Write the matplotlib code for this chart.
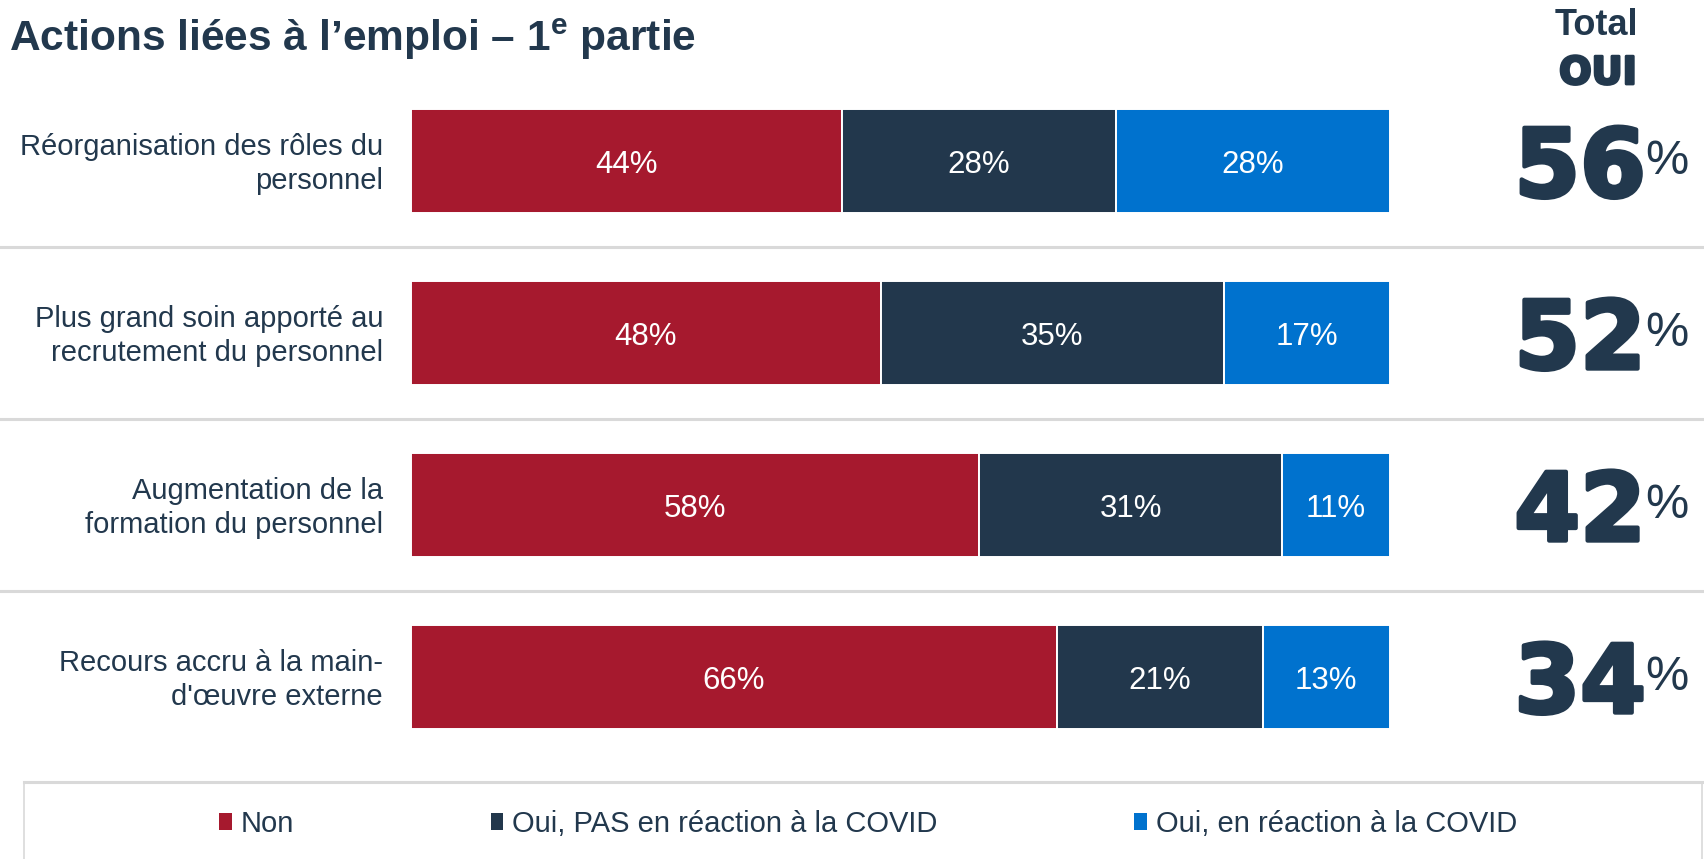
import matplotlib
matplotlib.use("Agg")
import matplotlib.pyplot as plt
import matplotlib.transforms as mtransforms
import matplotlib.patheffects as pe
from matplotlib.patches import Patch, Rectangle

plt.rcParams['font.family'] = ['Liberation Sans', 'DejaVu Sans']
plt.rcParams['mathtext.fontset'] = 'custom'
plt.rcParams['mathtext.rm'] = 'Liberation Sans:bold'
plt.rcParams['mathtext.bf'] = 'Liberation Sans:bold'

# ---- data ----
categories = [
    "Réorganisation des rôles du\npersonnel",
    "Plus grand soin apporté au\nrecrutement du personnel",
    "Augmentation de la\nformation du personnel",
    "Recours accru à la main-\nd'œuvre externe",
]
series_names = ["Non", "Oui, PAS en réaction à la COVID", "Oui, en réaction à la COVID"]
non = [44, 48, 58, 66]
oui_pas_covid = [28, 35, 31, 21]
oui_covid = [28, 17, 11, 13]

title = r"Actions liées à l’emploi – 1$^{\mathrm{e}}$ partie"

# ---- styling ----
RED = "#A6192E"
NAVY = "#22374C"
BLUE = "#0072CE"
TEXT = "#22384D"
GRID = "#D9D9D9"

W, H = 1704, 859
fig = plt.figure(figsize=(W / 100, H / 100), dpi=100)
fig.patch.set_facecolor("white")


def fx(x):
    return x / W


def fy(y):
    return 1 - y / H


ax = fig.add_axes([fx(411), fy(763), 979 / W, 688 / H])
ax.set_xlim(0, 100)
ax.set_ylim(3.5, -0.5)
ax.axis("off")

rows = list(range(len(categories)))
series = [non, oui_pas_covid, oui_covid]
colors = [RED, NAVY, BLUE]

left = [0] * len(categories)
for vals, col in zip(series, colors):
    ax.barh(rows, vals, left=left, height=0.605, color=col,
            edgecolor="white", linewidth=1.4)
    for i, (l, v) in enumerate(zip(left, vals)):
        ax.text(l + v / 2, i + 0.024, f"{v}%", ha="center", va="center",
                color="white", fontsize=22.5)
    left = [l + v for l, v in zip(left, vals)]

# category labels to the left of the bars
lab_tr = mtransforms.blended_transform_factory(ax.transAxes, ax.transData)
for i, cat in enumerate(categories):
    ax.text(-0.0286, i + 0.016, cat, transform=lab_tr, ha="right", va="center",
            multialignment="right", color=TEXT, fontsize=21, linespacing=1.26)

# row separators across the full width
for y in [0.5, 1.5, 2.5]:
    ax.axhline(y, xmin=-411 / 979, xmax=(W - 411) / 979, color=GRID,
               lw=2.2, clip_on=False)

# total "oui" column
heavy = [pe.withStroke(linewidth=3, foreground=TEXT)]
big_tr = mtransforms.blended_transform_factory(fig.transFigure, ax.transData)
for i in rows:
    total = oui_pas_covid[i] + oui_covid[i]
    ax.text(fx(1646), i + 0.207, f"{total}", transform=big_tr, ha="right",
            va="baseline", color=TEXT, fontsize=68, family="DejaVu Sans",
            fontweight="bold", path_effects=heavy, clip_on=False)
    ax.text(fx(1645), i + 0.075, "%", transform=big_tr, ha="left",
            va="baseline", color=TEXT, fontsize=35, clip_on=False)

fig.text(fx(1596), fy(35), "Total", ha="center", va="baseline",
         color=TEXT, fontsize=26, fontweight="bold")
fig.text(fx(1598), fy(84), "OUI", ha="center", va="baseline",
         color=TEXT, fontsize=27.5, family="DejaVu Sans", fontweight="bold",
         path_effects=[pe.withStroke(linewidth=2.0, foreground=TEXT)])

# title
fig.text(fx(9), fy(51), title, ha="left", va="baseline", color=TEXT,
         fontsize=30.6, fontweight="bold")

# legend box and legend
fig.add_artist(Rectangle((fx(24), fy(880)), (1702 - 24) / W, (880 - 782) / H,
                         transform=fig.transFigure, fill=False,
                         edgecolor=GRID, lw=1.2))
fig.add_artist(plt.Line2D([fx(24), fx(1702)], [fy(782), fy(782)],
                          transform=fig.transFigure, color=GRID, lw=2.2))
handles = [Patch(facecolor=c, edgecolor="none") for c in colors]
fig.legend(handles, series_names, loc="center",
           bbox_to_anchor=(fx(868), fy(824)), ncol=3, frameon=False,
           fontsize=21, handlelength=0.43, handleheight=0.52,
           handletextpad=0.3, columnspacing=6.75, labelcolor=TEXT)

fig.savefig("out.png", dpi=100, facecolor="white")
